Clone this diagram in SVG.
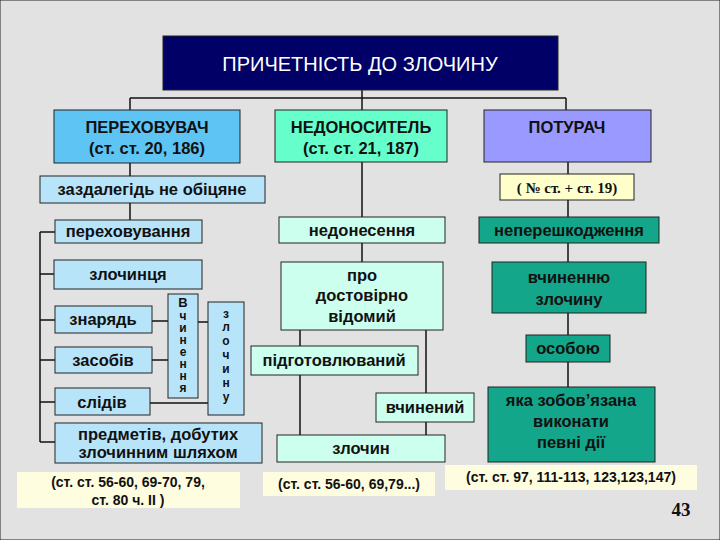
<svg xmlns="http://www.w3.org/2000/svg" width="720" height="540" viewBox="0 0 720 540">
<style>
text{font-family:"Liberation Sans",Arial,sans-serif;font-size:16.5px;fill:#111;text-anchor:middle}
.b{font-weight:bold}
.v{font-weight:bold;font-size:12px}
rect{stroke:#222;stroke-width:1}
.lb{fill:#b8e4fa}.bl{fill:#5ec4f4}.aq{fill:#66ffcc}.lc{fill:#ccffee}.tl{fill:#13a68a}.pu{fill:#9999ff}.yl{fill:#ffffcc}
.note{fill:#fffde0;stroke:none}
#c line{stroke:#111;stroke-width:1.5}
</style>
<rect x="0" y="0" width="720" height="540" fill="#e2e2e2" stroke="none"/>
<g id="c">
<line x1="362" y1="90" x2="362" y2="98"/>
<line x1="130" y1="98" x2="566" y2="98"/>
<line x1="130" y1="98" x2="130" y2="110"/>
<line x1="566" y1="98" x2="566" y2="110"/>
<line x1="362" y1="98" x2="362" y2="217"/>
<line x1="130" y1="163" x2="130" y2="220"/>
<line x1="40" y1="232" x2="40" y2="442"/>
<line x1="40" y1="232" x2="55" y2="232"/>
<line x1="40" y1="274" x2="54" y2="274"/>
<line x1="40" y1="320" x2="55" y2="320"/>
<line x1="40" y1="360" x2="55" y2="360"/>
<line x1="40" y1="402" x2="55" y2="402"/>
<line x1="40" y1="442" x2="55" y2="442"/>
<line x1="152" y1="321" x2="168" y2="321"/>
<line x1="152" y1="360" x2="168" y2="360"/>
<line x1="150" y1="403" x2="208" y2="403"/>
<line x1="198" y1="322" x2="208" y2="322"/>
<line x1="362" y1="243" x2="362" y2="262"/>
<line x1="300" y1="330" x2="300" y2="435"/>
<line x1="426" y1="330" x2="426" y2="435"/>
<line x1="568" y1="162" x2="568" y2="262"/>
<line x1="568" y1="313" x2="568" y2="387"/>
</g>
<g id="title"><rect x="163" y="36" width="395" height="54" fill="#000066"/><text x="360" y="71" style="fill:#fff;font-size:20px">ПРИЧЕТНІСТЬ  ДО  ЗЛОЧИНУ</text></g>
<g id="perekh"><rect class="bl" x="54" y="110" width="186" height="53"/><text class="b" x="147" y="133">ПЕРЕХОВУВАЧ</text><text class="b" x="147" y="154">(ст. ст. 20, 186)</text></g>
<g id="nedon"><rect class="aq" x="275" y="110" width="172" height="52"/><text class="b" x="361" y="133">НЕДОНОСИТЕЛЬ</text><text class="b" x="361" y="154">(ст. ст. 21, 187)</text></g>
<g id="potur"><rect class="pu" x="484" y="110" width="167" height="52"/><text class="b" x="567" y="133">ПОТУРАЧ</text></g>
<g id="zazd"><rect class="lb" x="40" y="176" width="225" height="27"/><text class="b" x="152" y="195">заздалегідь  не обіцяне</text></g>
<g id="n19"><rect class="yl" x="500" y="174" width="134" height="26"/><text class="b" x="567" y="193" style="font-family:'Liberation Serif',serif;font-size:15px">( № ст. +  ст. 19)</text></g>
<g id="perekhov"><rect class="lb" x="55" y="220" width="147" height="23"/><text class="b" x="128" y="237">переховування</text></g>
<g id="nedones"><rect class="lc" x="279" y="217" width="166" height="26"/><text class="b" x="362" y="236">недонесення</text></g>
<g id="neper"><rect class="tl" x="479" y="217" width="180" height="26"/><text class="b" x="569" y="236">неперешкодження</text></g>
<g id="zloch"><rect class="lb" x="54" y="260" width="148" height="29"/><text class="b" x="128" y="280">злочинця</text></g>
<g id="pro"><rect class="lc" x="281" y="262" width="162" height="68"/><text class="b" x="362" y="281">про</text><text class="b" x="362" y="301">достовірно</text><text class="b" x="362" y="322">відомий</text></g>
<g id="vchin"><rect class="tl" x="492" y="262" width="154" height="51"/><text class="b" x="569" y="283">вчиненню</text><text class="b" x="569" y="305">злочину</text></g>
<g id="znar"><rect class="lb" x="55" y="306" width="97" height="27"/><text class="b" x="103" y="325">знарядь</text></g>
<g id="zasob"><rect class="lb" x="55" y="347" width="97" height="26"/><text class="b" x="103" y="366">засобів</text></g>
<g id="slid"><rect class="lb" x="55" y="388" width="95" height="27"/><text class="b" x="102" y="408">слідів</text></g>
<g id="vchynennia"><rect class="lb" x="168" y="294" width="30" height="104"/>
<text class="v" x="183" y="307" style="font-size:13px">В</text><text class="v" x="183" y="320">ч</text><text class="v" x="183" y="332">и</text><text class="v" x="183" y="344">н</text><text class="v" x="183" y="356">е</text><text class="v" x="183" y="368">н</text><text class="v" x="183" y="380">н</text><text class="v" x="183" y="392">я</text></g>
<g id="zlochynu"><rect class="lb" x="208" y="302" width="36" height="113"/>
<text class="v" x="226" y="318">з</text><text class="v" x="226" y="331">л</text><text class="v" x="226" y="345">о</text><text class="v" x="226" y="359">ч</text><text class="v" x="226" y="373">и</text><text class="v" x="226" y="387">н</text><text class="v" x="226" y="401">у</text></g>
<g id="predm"><rect class="lb" x="55" y="423" width="207" height="40"/><text class="b" x="158" y="440">предметів, добутих</text><text class="b" x="158" y="458">злочинним  шляхом</text></g>
<g id="pidg"><rect class="lc" x="251" y="346" width="167" height="29"/><text class="b" x="334" y="366">підготовлюваний</text></g>
<g id="vchyn"><rect class="lc" x="376" y="393" width="98" height="29"/><text class="b" x="425" y="413">вчинений</text></g>
<g id="zlochyn"><rect class="lc" x="277" y="435" width="168" height="27"/><text class="b" x="361" y="454">злочин</text></g>
<g id="osob"><rect class="tl" x="526" y="335" width="84" height="27"/><text class="b" x="568" y="354">особою</text></g>
<g id="yaka"><rect class="tl" x="488" y="387" width="167" height="75"/><text class="b" x="571" y="406">яка зобов’язана</text><text class="b" x="571" y="427">виконати</text><text class="b" x="571" y="448">певні дії</text></g>
<g id="n1"><rect class="note" x="17" y="472" width="223" height="36"/><text class="b" x="128" y="487" style="font-size:14px">(ст. ст. 56-60, 69-70, 79,</text><text class="b" x="128" y="505" style="font-size:14px">ст. 80 ч. II )</text></g>
<g id="n2"><rect class="note" x="263" y="472" width="172" height="24"/><text class="b" x="349" y="489" style="font-size:14px">(ст. ст. 56-60, 69,79...)</text></g>
<g id="n3"><rect class="note" x="445" y="465" width="252" height="25"/><text class="b" x="571" y="482" style="font-size:14px">(ст. ст. 97, 111-113, 123,123,147)</text></g>
<text class="b" x="681" y="516" style="font-family:'Liberation Serif',serif;font-size:19px">43</text>
</svg>
